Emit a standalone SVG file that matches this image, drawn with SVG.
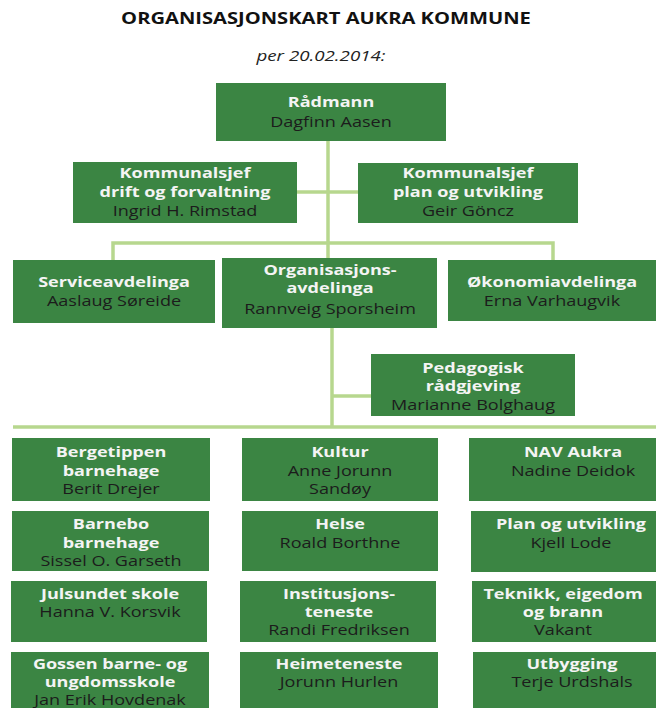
<svg xmlns="http://www.w3.org/2000/svg" width="656" height="708" viewBox="0 0 656 708">
<style>
.box{fill:#3b8543}
.b{font-family:"Open Sans","DejaVu Sans",sans-serif;font-weight:bold;font-size:14px;fill:#f4f4f4;text-anchor:middle}
.n{font-family:"Open Sans","DejaVu Sans",sans-serif;font-size:14px;fill:#1c1c1c;text-anchor:middle}
.ln{stroke:#b7d78e;stroke-width:3.5;fill:none}
</style>
<rect width="656" height="708" fill="#ffffff"/>
<g id="title">
<text transform="translate(326 24) scale(1.3 1)" style="font-family:'Open Sans',sans-serif;font-weight:bold;font-size:15.5px;fill:#111;text-anchor:middle">ORGANISASJONSKART AUKRA KOMMUNE</text>
<text transform="translate(321 61) scale(1.25 1)" style="font-family:'Open Sans',sans-serif;font-style:italic;font-size:15px;fill:#222;text-anchor:middle">per 20.02.2014:</text>
</g>
<g id="connectors">
<line class="ln" x1="328" y1="141" x2="328" y2="243"/>
<line class="ln" x1="297" y1="192" x2="358" y2="192"/>
<polyline class="ln" points="113,260 113,243 553,243 553,260"/>
<line class="ln" x1="328" y1="243" x2="328" y2="258"/>
<line class="ln" x1="332" y1="328" x2="332" y2="427"/>
<line class="ln" x1="332" y1="396" x2="371" y2="396"/>
<line class="ln" x1="13" y1="427" x2="656" y2="427"/>
</g>
<g id="radmann"><rect class="box" x="216" y="83" width="230" height="58"/>
<text class="b" transform="translate(331 107) scale(1.29 1)">Rådmann</text>
<text class="n" transform="translate(331 127) scale(1.29 1)">Dagfinn Aasen</text></g>
<g id="ks-drift"><rect class="box" x="73" y="162" width="224" height="61"/>
<text class="b" transform="translate(185 178) scale(1.29 1)">Kommunalsjef</text>
<text class="b" transform="translate(185 197) scale(1.29 1)">drift og forvaltning</text>
<text class="n" transform="translate(185 216) scale(1.29 1)">Ingrid H. Rimstad</text></g>
<g id="ks-plan"><rect class="box" x="358" y="163" width="220" height="60"/>
<text class="b" transform="translate(468 178) scale(1.29 1)">Kommunalsjef</text>
<text class="b" transform="translate(468 197) scale(1.29 1)">plan og utvikling</text>
<text class="n" transform="translate(468 216) scale(1.29 1)">Geir Göncz</text></g>
<g id="service"><rect class="box" x="13" y="260" width="202" height="63"/>
<text class="b" transform="translate(114 287) scale(1.29 1)">Serviceavdelinga</text>
<text class="n" transform="translate(114 306) scale(1.29 1)">Aaslaug Søreide</text></g>
<g id="organisasjon"><rect class="box" x="222" y="258" width="215" height="70"/>
<text class="b" transform="translate(330 275) scale(1.29 1)">Organisasjons-</text>
<text class="b" transform="translate(330 293) scale(1.29 1)">avdelinga</text>
<text class="n" transform="translate(330 314) scale(1.29 1)">Rannveig Sporsheim</text></g>
<g id="okonomi"><rect class="box" x="448" y="260" width="208" height="61"/>
<text class="b" transform="translate(552 287) scale(1.29 1)">Økonomiavdelinga</text>
<text class="n" transform="translate(552 306) scale(1.29 1)">Erna Varhaugvik</text></g>
<g id="pedagogisk"><rect class="box" x="371" y="354" width="204" height="62"/>
<text class="b" transform="translate(473 373) scale(1.29 1)">Pedagogisk</text>
<text class="b" transform="translate(473 391) scale(1.29 1)">rådgjeving</text>
<text class="n" transform="translate(473 410) scale(1.29 1)">Marianne Bolghaug</text></g>
<g id="bergetippen"><rect class="box" x="12" y="438" width="198" height="63"/>
<text class="b" transform="translate(111 457) scale(1.29 1)">Bergetippen</text>
<text class="b" transform="translate(111 476) scale(1.29 1)">barnehage</text>
<text class="n" transform="translate(111 494) scale(1.29 1)">Berit Drejer</text></g>
<g id="barnebo"><rect class="box" x="12" y="511" width="197" height="60"/>
<text class="b" transform="translate(111 529) scale(1.29 1)">Barnebo</text>
<text class="b" transform="translate(111 548) scale(1.29 1)">barnehage</text>
<text class="n" transform="translate(111 566) scale(1.29 1)">Sissel O. Garseth</text></g>
<g id="julsundet"><rect class="box" x="11" y="581" width="196" height="61"/>
<text class="b" transform="translate(110 599) scale(1.29 1)">Julsundet skole</text>
<text class="n" transform="translate(110 617) scale(1.29 1)">Hanna V. Korsvik</text></g>
<g id="gossen"><rect class="box" x="11" y="652" width="198" height="56"/>
<text class="b" transform="translate(110 669) scale(1.29 1)">Gossen barne- og</text>
<text class="b" transform="translate(110 687) scale(1.29 1)">ungdomsskole</text>
<text class="n" transform="translate(110 705) scale(1.29 1)">Jan Erik Hovdenak</text></g>
<g id="kultur"><rect class="box" x="242" y="438" width="196" height="63"/>
<text class="b" transform="translate(340 457) scale(1.29 1)">Kultur</text>
<text class="n" transform="translate(340 476) scale(1.29 1)">Anne Jorunn</text>
<text class="n" transform="translate(340 494) scale(1.29 1)">Sandøy</text></g>
<g id="helse"><rect class="box" x="242" y="511" width="196" height="60"/>
<text class="b" transform="translate(340 529) scale(1.29 1)">Helse</text>
<text class="n" transform="translate(340 548) scale(1.29 1)">Roald Borthne</text></g>
<g id="institusjon"><rect class="box" x="240" y="581" width="196" height="61"/>
<text class="b" transform="translate(339 599) scale(1.29 1)">Institusjons-</text>
<text class="b" transform="translate(339 617) scale(1.29 1)">teneste</text>
<text class="n" transform="translate(339 635) scale(1.29 1)">Randi Fredriksen</text></g>
<g id="heimeteneste"><rect class="box" x="240" y="652" width="198" height="56"/>
<text class="b" transform="translate(339 669) scale(1.29 1)">Heimeteneste</text>
<text class="n" transform="translate(339 687) scale(1.29 1)">Jorunn Hurlen</text></g>
<g id="nav"><rect class="box" x="469" y="438" width="187" height="63"/>
<text class="b" transform="translate(573 457) scale(1.29 1)">NAV Aukra</text>
<text class="n" transform="translate(573 476) scale(1.29 1)">Nadine Deidok</text></g>
<g id="plan"><rect class="box" x="471" y="511" width="185" height="61"/>
<text class="b" transform="translate(571 529) scale(1.29 1)">Plan og utvikling</text>
<text class="n" transform="translate(571 548) scale(1.29 1)">Kjell Lode</text></g>
<g id="teknikk"><rect class="box" x="472" y="581" width="184" height="61"/>
<text class="b" transform="translate(563 599) scale(1.29 1)">Teknikk, eigedom</text>
<text class="b" transform="translate(563 617) scale(1.29 1)">og brann</text>
<text class="n" transform="translate(563 635) scale(1.29 1)">Vakant</text></g>
<g id="utbygging"><rect class="box" x="473" y="652" width="183" height="56"/>
<text class="b" transform="translate(572 669) scale(1.29 1)">Utbygging</text>
<text class="n" transform="translate(572 687) scale(1.29 1)">Terje Urdshals</text></g>
</svg>
